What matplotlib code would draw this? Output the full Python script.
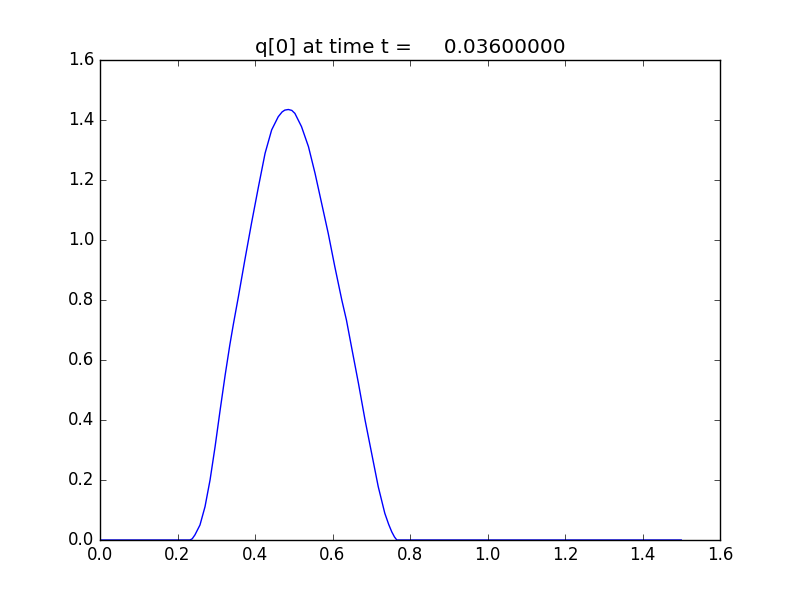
import matplotlib
matplotlib.use('Agg')
import matplotlib.pyplot as plt

# valores
x = [0.0, 0.20, 0.232, 0.238, 0.245, 0.258, 0.271, 0.284, 0.297, 0.310, 0.323, 0.335,
     0.344, 0.357, 0.374, 0.391, 0.409, 0.426, 0.443, 0.460, 0.470, 0.477, 0.486, 0.495,
     0.503, 0.520, 0.538, 0.555, 0.572, 0.589, 0.606, 0.624, 0.636, 0.649, 0.667, 0.684,
     0.701, 0.718, 0.735, 0.745, 0.753, 0.760, 0.766, 0.80, 1.0, 1.5]
q0 = [0.0, 0.0, 0.0, 0.004, 0.017, 0.05, 0.111, 0.20, 0.311, 0.433, 0.550, 0.650,
      0.718, 0.810, 0.935, 1.056, 1.178, 1.289, 1.367, 1.411, 1.427, 1.433, 1.435, 1.432,
      1.422, 1.378, 1.311, 1.222, 1.122, 1.022, 0.911, 0.80, 0.733, 0.644, 0.522, 0.40,
      0.289, 0.178, 0.089, 0.052, 0.027, 0.010, 0.0, 0.0, 0.0, 0.0]

t = 0.036

plt.style.use('classic')
fig = plt.figure(figsize=(8, 6), dpi=100)
ax = fig.add_subplot(111)
ax.plot(x, q0, 'b-')
ax.set_xlim(0, 1.6)
ax.set_ylim(0, 1.6)
ax.set_title('q[0] at time t = %14.8f' % t)
fig.savefig('out.png', dpi=100)
